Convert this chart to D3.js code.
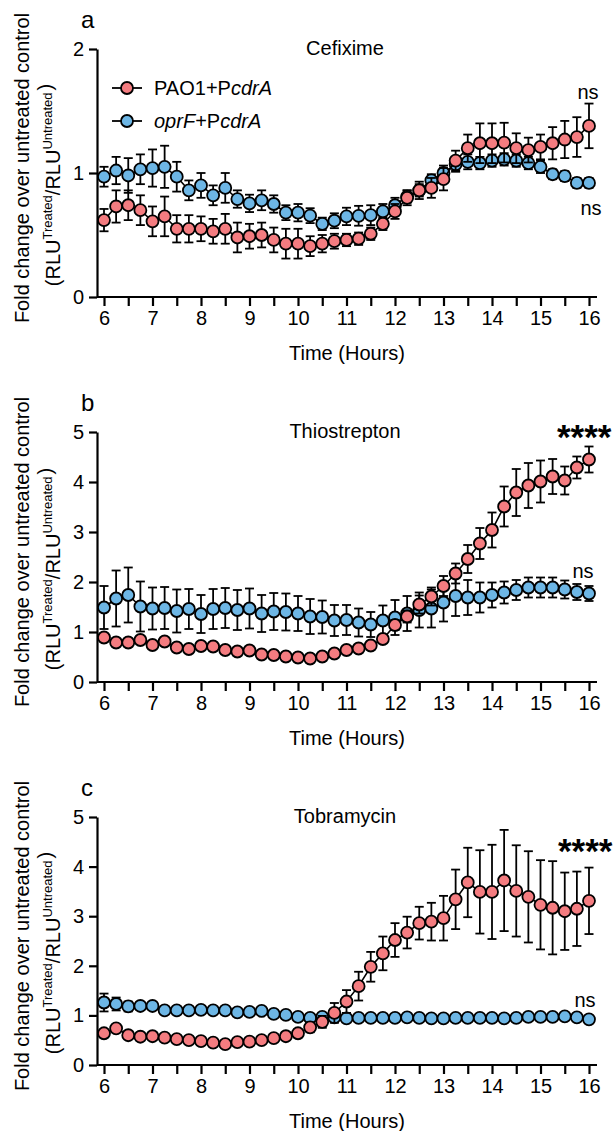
<!DOCTYPE html>
<html><head><meta charset="utf-8">
<script src="https://cdn.jsdelivr.net/npm/d3@7"></script>
<style>body{margin:0;background:#fff}svg{display:block}text{font-family:"Liberation Sans",Arial,sans-serif;fill:#000}</style>
</head><body>
<svg id="c" width="615" height="1131"></svg>
<script>
const hours = d3.range(41).map(i => 6 + i * 0.25);
const xTicks = [6,7,8,9,10,11,12,13,14,15,16];
const panelLetters = ["a","b","c"];
const titles = ["Cefixime","Thiostrepton","Tobramycin"];
const yMax = [2,5,5];
const yTicksA = [0,1,2];
const yTicksBC = [0,1,2,3,4,5];

const cefRed = [0.62,0.73,0.74,0.70,0.61,0.65,0.55,0.55,0.55,0.53,0.55,0.48,0.49,0.50,0.46,0.43,0.43,0.41,0.43,0.45,0.46,0.47,0.51,0.59,0.69,0.80,0.86,0.88,0.95,1.10,1.20,1.24,1.24,1.245,1.20,1.185,1.21,1.24,1.27,1.29,1.38];
const cefRedErr = [0.09,0.13,0.12,0.12,0.12,0.16,0.11,0.11,0.10,0.10,0.12,0.12,0.10,0.10,0.10,0.12,0.12,0.08,0.07,0.06,0.05,0.05,0.05,0.05,0.06,0.06,0.07,0.08,0.09,0.08,0.11,0.16,0.16,0.16,0.12,0.10,0.10,0.13,0.15,0.16,0.18];
const cefBlue = [0.97,1.02,0.98,1.03,1.04,1.05,0.97,0.86,0.90,0.82,0.88,0.79,0.755,0.78,0.75,0.68,0.68,0.656,0.59,0.615,0.65,0.655,0.66,0.69,0.74,0.81,0.86,0.94,1.00,1.07,1.09,1.08,1.10,1.11,1.10,1.08,1.05,0.99,0.975,0.92,0.92];
const cefBlueErr = [0.08,0.11,0.14,0.12,0.15,0.17,0.12,0.08,0.10,0.08,0.12,0.07,0.07,0.08,0.07,0.06,0.07,0.06,0.05,0.06,0.07,0.08,0.08,0.06,0.06,0.05,0.05,0.05,0.06,0.06,0.06,0.05,0.05,0.05,0.05,0.05,0.05,0.04,0.04,0.04,0.04];

const thioRed = [0.89,0.79,0.79,0.84,0.74,0.81,0.69,0.66,0.72,0.71,0.64,0.61,0.63,0.55,0.54,0.51,0.49,0.47,0.51,0.57,0.64,0.67,0.73,0.86,1.14,1.31,1.55,1.71,1.92,2.17,2.46,2.77,3.04,3.51,3.79,3.93,4.01,4.11,4.03,4.29,4.45];
const thioRedErr = [0.06,0.06,0.06,0.06,0.06,0.06,0.06,0.06,0.06,0.06,0.06,0.06,0.06,0.06,0.06,0.06,0.06,0.06,0.06,0.06,0.06,0.06,0.06,0.08,0.10,0.12,0.18,0.18,0.20,0.20,0.28,0.31,0.35,0.40,0.47,0.45,0.42,0.35,0.28,0.22,0.26];
const thioBlue = [1.49,1.67,1.74,1.51,1.47,1.48,1.42,1.46,1.36,1.46,1.48,1.44,1.47,1.37,1.41,1.40,1.37,1.31,1.30,1.23,1.24,1.19,1.15,1.23,1.29,1.37,1.44,1.47,1.59,1.72,1.69,1.69,1.74,1.79,1.84,1.89,1.89,1.89,1.85,1.80,1.77];
const thioBlueErr = [0.43,0.56,0.55,0.50,0.42,0.42,0.43,0.40,0.38,0.40,0.40,0.40,0.40,0.37,0.37,0.37,0.35,0.35,0.33,0.31,0.30,0.28,0.25,0.30,0.35,0.35,0.35,0.38,0.38,0.40,0.35,0.30,0.25,0.22,0.20,0.20,0.20,0.20,0.18,0.16,0.15];

const tobRed = [0.64,0.74,0.60,0.57,0.58,0.55,0.52,0.50,0.48,0.45,0.42,0.46,0.47,0.50,0.54,0.58,0.64,0.76,0.87,1.05,1.28,1.59,1.98,2.25,2.52,2.67,2.86,2.89,2.96,3.34,3.68,3.49,3.49,3.72,3.51,3.39,3.23,3.17,3.10,3.15,3.31];
const tobRedErr = [0.05,0.05,0.05,0.05,0.05,0.05,0.05,0.05,0.05,0.05,0.05,0.05,0.05,0.05,0.05,0.05,0.08,0.10,0.12,0.20,0.23,0.29,0.30,0.34,0.34,0.32,0.33,0.38,0.45,0.60,0.70,0.84,0.95,1.02,0.92,0.92,0.90,0.94,0.78,0.75,0.67];
const tobBlue = [1.26,1.23,1.18,1.19,1.19,1.10,1.10,1.10,1.11,1.10,1.10,1.06,1.07,1.09,1.03,1.01,0.97,0.95,0.97,0.96,0.94,0.95,0.95,0.95,0.95,0.96,0.95,0.94,0.94,0.95,0.95,0.95,0.95,0.94,0.95,0.97,0.97,0.97,0.98,0.96,0.92];
const tobBlueErr = [0.18,0.13,0.10,0.08,0.08,0.05,0.04,0.04,0.04,0.04,0.04,0.04,0.04,0.04,0.04,0.04,0.04,0.04,0.04,0.04,0.04,0.04,0.04,0.04,0.04,0.04,0.04,0.04,0.04,0.04,0.04,0.04,0.04,0.04,0.04,0.05,0.05,0.05,0.06,0.05,0.05];

const seriesNames = ["PAO1+P", "oprF+P"];
const redColor = "#F47C80", blueColor = "#6DB6E5";

const panels = [
  {red: cefRed, redErr: cefRedErr, blue: cefBlue, blueErr: cefBlueErr, yTicks: yTicksA,
   ann: [{t:"ns", x:588, y:99, big:false}, {t:"ns", x:591, y:215, big:false}]},
  {red: thioRed, redErr: thioRedErr, blue: thioBlue, blueErr: thioBlueErr, yTicks: yTicksBC,
   ann: [{t:"****", x:557, y:449, big:true}, {t:"ns", x:583, y:578, big:false}]},
  {red: tobRed, redErr: tobRedErr, blue: tobBlue, blueErr: tobBlueErr, yTicks: yTicksBC,
   ann: [{t:"****", x:558, y:863, big:true}, {t:"ns", x:585, y:1007, big:false}]}
];
const tops = [49, 432, 817], bottoms = [297, 682, 1065];

const svg = d3.select("#c");
const x = d3.scaleLinear().domain([6,16]).range([104,589]);
const axisLeftX = 97, axisRightX = 597;

panels.forEach((p, i) => {
  const g = svg.append("g");
  const y = d3.scaleLinear().domain([0, yMax[i]]).range([bottoms[i], tops[i]]);

  const xa = g.append("g").attr("transform", `translate(0,${bottoms[i]})`)
    .call(d3.axisBottom(x).tickValues(d3.range(6, 16.01, 0.5)).tickSize(9).tickPadding(5)
      .tickFormat(d => Number.isInteger(d) ? d : ""));
  xa.select(".domain").attr("d", `M${axisLeftX},0H${axisRightX}`);
  xa.selectAll("path,line").attr("stroke", "#000").attr("stroke-width", 2.2);
  xa.selectAll("text").style("font-size", "20px").style("font-family", "Liberation Sans, Arial, sans-serif");

  const ya = g.append("g").attr("transform", `translate(${axisLeftX},0)`)
    .call(d3.axisLeft(y).tickValues(p.yTicks).tickFormat(d3.format("d")).tickSize(8).tickPadding(5).tickSizeOuter(0));
  ya.selectAll("path,line").attr("stroke", "#000").attr("stroke-width", 2.2);
  ya.selectAll("text").style("font-size", "20px").style("font-family", "Liberation Sans, Arial, sans-serif");

  g.append("text").attr("x", 347).attr("y", bottoms[i] + 63).attr("text-anchor", "middle")
    .style("font-size", "20px").text("Time (Hours)");
  g.append("text").attr("x", 345).attr("y", tops[i] + 6).attr("text-anchor", "middle")
    .style("font-size", "20px").text(titles[i]);
  g.append("text").attr("x", 81).attr("y", tops[i] - 21).style("font-size", "24px").text(panelLetters[i]);

  const cy = (tops[i] + bottoms[i]) / 2;
  g.append("text").attr("transform", `translate(29,${cy - 5}) rotate(-90)`).attr("text-anchor", "middle")
    .style("font-size", "20px").text("Fold change over untreated control");
  const t2 = g.append("text").attr("transform", `translate(60,${cy + 12}) rotate(-90)`).attr("text-anchor", "middle")
    .style("font-size", "20px");
  t2.append("tspan").text("(RLU");
  t2.append("tspan").attr("dy", -8).style("font-size", "13px").text("Treated");
  t2.append("tspan").attr("dy", 8).text("/RLU");
  t2.append("tspan").attr("dy", -8).style("font-size", "13px").text("Untreated");
  t2.append("tspan").attr("dy", 0).attr("dx", 2).text(")");

  const line = d3.line().x((d, k) => x(hours[k])).y(d => y(d));
  const drawSeries = (vals, errs, color) => {
    const sg = g.append("g");
    sg.append("path").datum(vals).attr("d", line).attr("fill", "none").attr("stroke", "#000").attr("stroke-width", 1.6);
    const eb = sg.selectAll(".eb").data(vals).enter().append("g");
    eb.append("line").attr("x1", (d,k) => x(hours[k])).attr("x2", (d,k) => x(hours[k]))
      .attr("y1", (d,k) => y(d + errs[k])).attr("y2", (d,k) => y(d - errs[k]))
      .attr("stroke", "#000").attr("stroke-width", 1.8);
    [1,-1].forEach(s => {
      eb.append("line").attr("x1", (d,k) => x(hours[k]) - 4.5).attr("x2", (d,k) => x(hours[k]) + 4.5)
        .attr("y1", (d,k) => y(d + s*errs[k])).attr("y2", (d,k) => y(d + s*errs[k]))
        .attr("stroke", "#000").attr("stroke-width", 1.8);
    });
    sg.selectAll("circle").data(vals).enter().append("circle")
      .attr("cx", (d,k) => x(hours[k])).attr("cy", d => y(d)).attr("r", 6)
      .attr("fill", color).attr("stroke", "#000").attr("stroke-width", 1.8);
  };
  drawSeries(p.blue, p.blueErr, blueColor);
  drawSeries(p.red, p.redErr, redColor);

  p.ann.forEach(a => {
    const t = g.append("text").attr("x", a.x).attr("y", a.y).text(a.t);
    if (a.big) t.style("font-size", "35px").style("font-weight", "bold");
    else t.attr("text-anchor", "middle").style("font-size", "20px");
  });
});

const legend = svg.append("g");
[[redColor, 88, seriesNames[0]], [blueColor, 121, seriesNames[1]]].forEach(([c, ly, name], i) => {
  legend.append("line").attr("x1", 112).attr("x2", 142).attr("y1", ly).attr("y2", ly).attr("stroke", "#000").attr("stroke-width", 1.8);
  legend.append("circle").attr("cx", 127).attr("cy", ly).attr("r", 6).attr("fill", c).attr("stroke", "#000").attr("stroke-width", 1.8);
  const t = legend.append("text").attr("x", 154).attr("y", ly + 7).style("font-size", "20px");
  if (i === 0) {
    t.append("tspan").text("PAO1+P");
  } else {
    t.append("tspan").style("font-style", "italic").text("oprF");
    t.append("tspan").text("+P");
  }
  t.append("tspan").style("font-style", "italic").text("cdrA");
});
</script>
</body></html>
